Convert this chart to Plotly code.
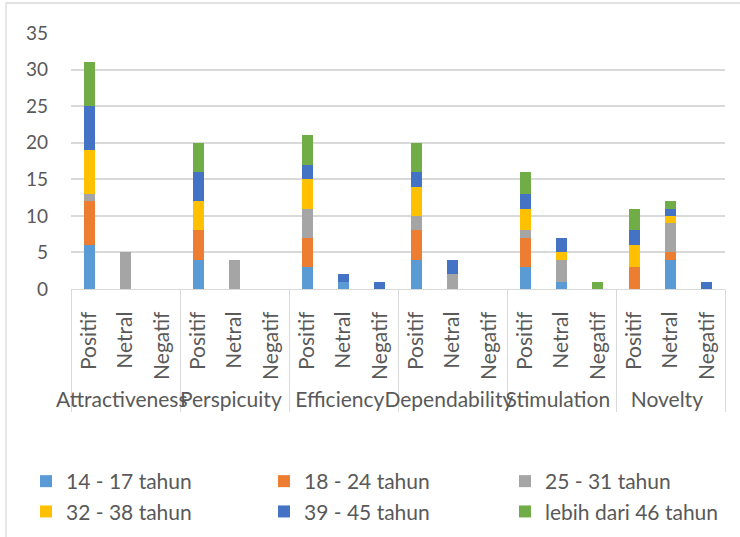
import plotly.graph_objects as go

# UEQ scale results per age group
aspects = ["Attractiveness", "Perspicuity", "Efficiency", "Dependability", "Stimulation", "Novelty"]
responses = ["Positif", "Netral", "Negatif"]

age_groups = ["14 - 17 tahun", "18 - 24 tahun", "25 - 31 tahun",
              "32 - 38 tahun", "39 - 45 tahun", "lebih dari 46 tahun"]
colors = ["#5B9BD5", "#ED7D31", "#A5A5A5", "#FFC000", "#4472C4", "#70AD47"]

# counts per aspect, ordered Positif / Netral / Negatif
age_14_17 = [6, 0, 0, 4, 0, 0, 3, 1, 0, 4, 0, 0, 3, 1, 0, 0, 4, 0]
age_18_24 = [6, 0, 0, 4, 0, 0, 4, 0, 0, 4, 0, 0, 4, 0, 0, 3, 1, 0]
age_25_31 = [1, 5, 0, 0, 4, 0, 4, 0, 0, 2, 2, 0, 1, 3, 0, 0, 4, 0]
age_32_38 = [6, 0, 0, 4, 0, 0, 4, 0, 0, 4, 0, 0, 3, 1, 0, 3, 1, 0]
age_39_45 = [6, 0, 0, 4, 0, 0, 2, 1, 1, 2, 2, 0, 2, 2, 0, 2, 1, 1]
age_46_up = [6, 0, 0, 4, 0, 0, 4, 0, 0, 4, 0, 0, 3, 0, 1, 3, 1, 0]

series = [age_14_17, age_18_24, age_25_31, age_32_38, age_39_45, age_46_up]

outer = [a for a in aspects for _ in responses]
inner = [r for _ in aspects for r in responses]

FONT = "Lato"
TXT = "#595959"

# legend laid out as three columns of two entries
legend_ids = ["legend", "legend2", "legend3", "legend", "legend2", "legend3"]

fig = go.Figure()
for name, vals, col, lg in zip(age_groups, series, colors, legend_ids):
    fig.add_trace(go.Bar(
        x=[outer, inner], y=vals, name=name, legend=lg,
        marker=dict(color=col, line=dict(width=0)),
    ))

PW, PH = 654, 256
leg_y = (289 - 461) / PH


def legend_at(px_left):
    return dict(
        orientation="v", x=(px_left - 71) / PW, xanchor="left",
        y=leg_y, yanchor="top", traceorder="normal",
        font=dict(family=FONT, size=21, color=TXT),
        itemwidth=30, tracegroupgap=0, bgcolor="rgba(0,0,0,0)",
    )


fig.update_layout(
    barmode="stack",
    bargap=0.7,
    width=740, height=537,
    margin=dict(l=71, r=15, t=33, b=248, autoexpand=False),
    paper_bgcolor="white", plot_bgcolor="white",
    font=dict(family=FONT, size=18, color=TXT),
    legend=legend_at(26),
    legend2=legend_at(264),
    legend3=legend_at(505),
    xaxis=dict(
        type="multicategory", tickangle=-90, automargin=False,
        showdividers=True, dividercolor="#d9d9d9", dividerwidth=1.3,
        showline=True, linecolor="#d9d9d9", linewidth=1.3,
        ticks="", tickfont=dict(family=FONT, size=21, color=TXT),
        ticklabelstandoff=13,
        showgrid=False,
    ),
    yaxis=dict(
        range=[0, 35], dtick=5, showgrid=True, gridcolor="#d9d9d9", gridwidth=1.5,
        zeroline=False, showline=False, ticks="", automargin=False,
        ticklabelstandoff=22,
        tickfont=dict(family=FONT, size=19, color=TXT),
    ),
    shapes=[dict(type="rect", xref="paper", yref="paper",
                 x0=-65 / PW, x1=1.2, y0=-2.0, y1=1 + 30 / PH,
                 line=dict(color="#d9d9d9", width=1.3), layer="below")],
)

fig.write_html("out.html")
